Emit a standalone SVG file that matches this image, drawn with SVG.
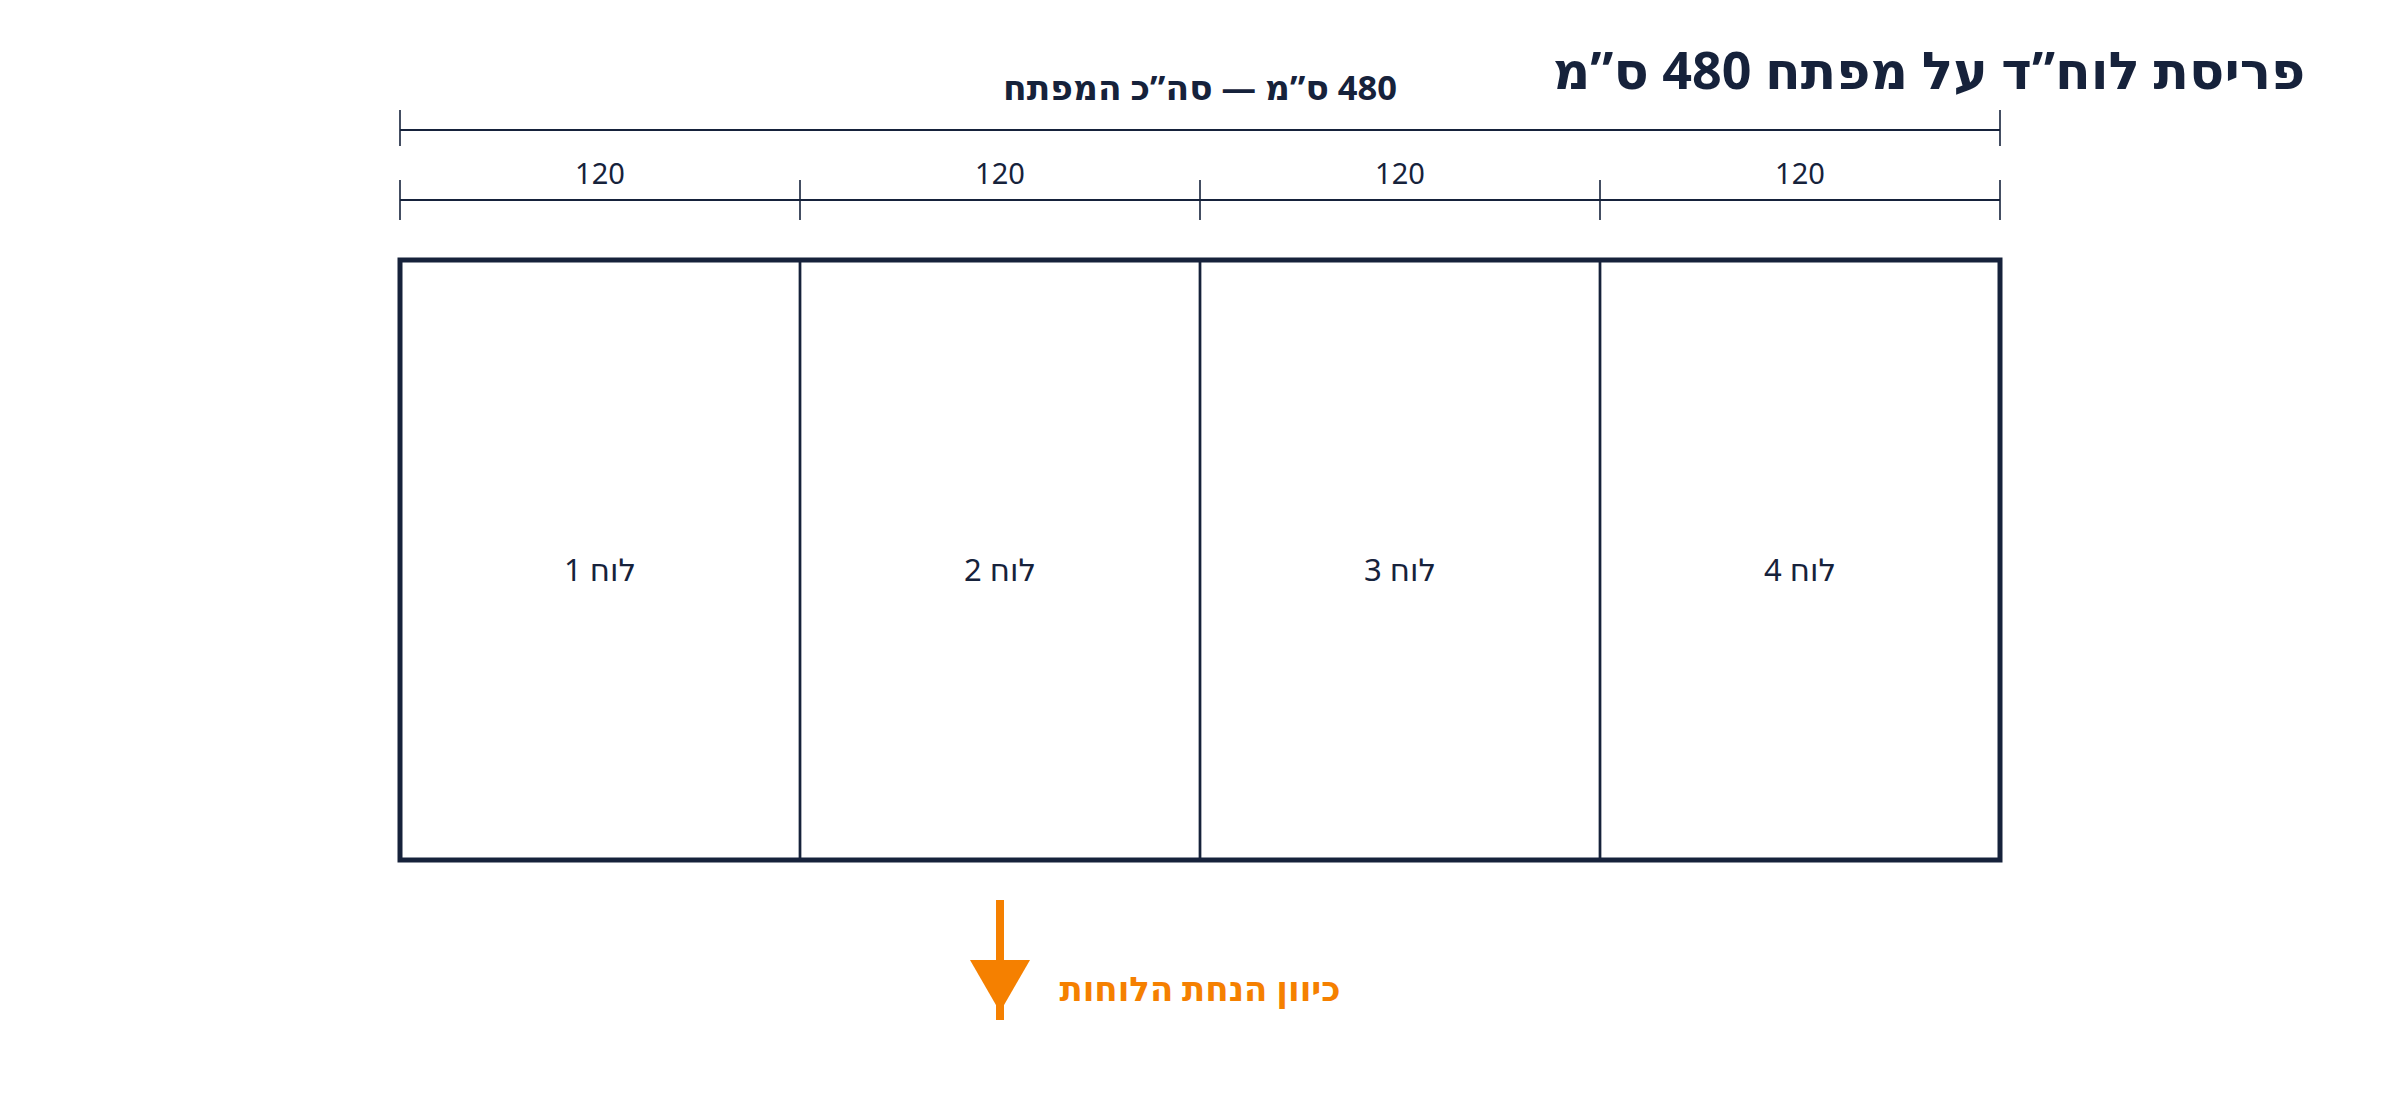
<svg xmlns="http://www.w3.org/2000/svg" width="2400" height="1120" viewBox="0 0 2400 1120">
  <style>
    .ink { stroke: #16223b; fill: none; }
    .dim { stroke: #16223b; stroke-width: 2; }
    .tick { stroke: #16223b; stroke-width: 1.6; }
    .t { font-family: "Noto Sans", "DejaVu Sans", sans-serif; fill: #16223b; direction: rtl; text-anchor: middle; }
    .title { font-size: 52px; font-weight: 700; }
    .total { font-size: 34.5px; font-weight: 700; }
    .sub { font-size: 29px; }
    .lbl { font-size: 31px; }
    .note { font-family: "Noto Sans", "DejaVu Sans", sans-serif; fill: #f58000; font-size: 34px; font-weight: 700; direction: rtl; text-anchor: middle; }
  </style>
  <rect width="2400" height="1120" fill="#ffffff"/>
  <text class="t title" x="1929" y="89">פריסת לוח”ד על מפתח 480 ס”מ</text>

  <g id="dimensions">
    <text class="t total" x="1200" y="100">480 ס”מ — סה”כ המפתח</text>
    <line class="dim" x1="400" y1="130" x2="2000" y2="130"/>
    <line class="tick" x1="400" y1="110" x2="400" y2="146"/>
    <line class="tick" x1="2000" y1="110" x2="2000" y2="146"/>
    <line class="dim" x1="400" y1="200" x2="2000" y2="200"/>
    <line class="tick" x1="400" y1="180" x2="400" y2="220"/>
    <line class="tick" x1="800" y1="180" x2="800" y2="220"/>
    <line class="tick" x1="1200" y1="180" x2="1200" y2="220"/>
    <line class="tick" x1="1600" y1="180" x2="1600" y2="220"/>
    <line class="tick" x1="2000" y1="180" x2="2000" y2="220"/>
    <text class="t sub" x="600" y="184">120</text>
    <text class="t sub" x="1000" y="184">120</text>
    <text class="t sub" x="1400" y="184">120</text>
    <text class="t sub" x="1800" y="184">120</text>
  </g>

  <g id="panel1">
    <rect class="ink" x="400" y="260" width="400" height="600" stroke-width="2.4"/>
    <text class="t lbl" x="600" y="581">לוח 1</text>
  </g>
  <g id="panel2">
    <rect class="ink" x="800" y="260" width="400" height="600" stroke-width="2.4"/>
    <text class="t lbl" x="1000" y="581">לוח 2</text>
  </g>
  <g id="panel3">
    <rect class="ink" x="1200" y="260" width="400" height="600" stroke-width="2.4"/>
    <text class="t lbl" x="1400" y="581">לוח 3</text>
  </g>
  <g id="panel4">
    <rect class="ink" x="1600" y="260" width="400" height="600" stroke-width="2.4"/>
    <text class="t lbl" x="1800" y="581">לוח 4</text>
  </g>
  <g id="frame">
    <rect class="ink" x="400" y="260" width="1600" height="600" stroke-width="5"/>
  </g>

  <g id="connectors">
    <line x1="1000" y1="900" x2="1000" y2="1020" stroke="#f58000" stroke-width="8"/>
    <polygon points="970,960 1030,960 1000,1012" fill="#f58000"/>
  </g>
  <g id="direction-note">
    <text class="note" x="1200" y="1001">כיוון הנחת הלוחות</text>
  </g>
</svg>
